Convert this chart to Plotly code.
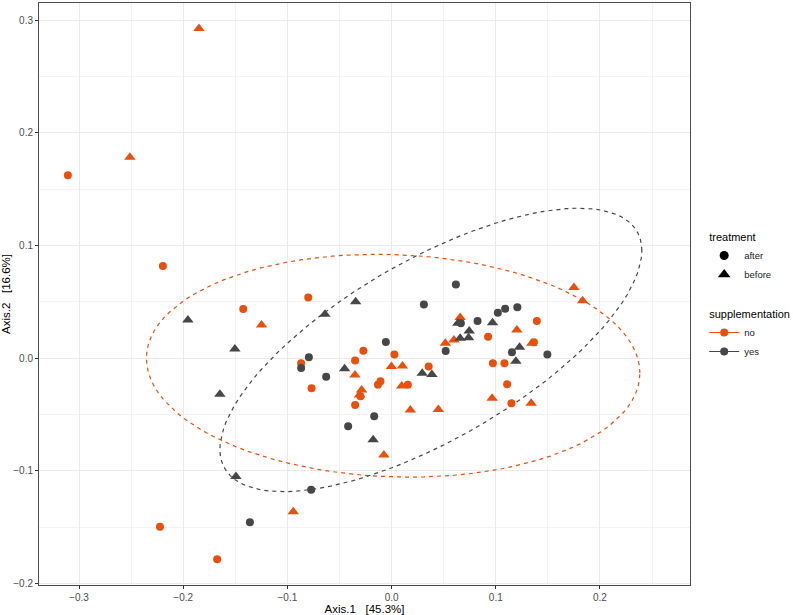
import numpy as np
import plotly.graph_objects as go

# ordination scores (Axis.1, Axis.2)
no_after_x = [-0.3107, -0.2195, -0.1424, -0.2223, -0.1674, -0.0800, -0.0868, -0.0768,
              -0.0271, -0.0350, 0.0027, -0.0107, -0.0131, -0.0350, -0.0299, 0.0356,
              0.0156, 0.0926, 0.0972, 0.1394, 0.1366, 0.1083, 0.1109, 0.1150]
no_after_y = [0.1624, 0.0818, 0.0437, -0.1494, -0.1784, 0.0539, -0.0044, -0.0266,
              0.0067, -0.0019, 0.0034, -0.0203, -0.0235, -0.0414, -0.0338, -0.0073,
              -0.0235, 0.0191, -0.0043, 0.0330, 0.0142, -0.0044, -0.0230, -0.0400]

no_before_x = [-0.1849, -0.2512, -0.1248, -0.0944, -0.0352, -0.0288, -0.0309, -0.0002,
               0.0104, 0.0097, 0.0180, 0.0449, -0.0074, 0.0516, 0.0598, 0.0658,
               0.1202, 0.1346, 0.0965, 0.1340, 0.1750, 0.1833]
no_before_y = [0.2926, 0.1783, 0.0295, -0.1361, -0.0148, -0.0281, -0.0325, -0.0073,
               -0.0068, -0.0245, -0.0458, -0.0455, -0.0859, 0.0134, 0.0162, 0.0363,
               0.0251, 0.0133, -0.0354, -0.0399, 0.0629, 0.0510]

yes_after_x = [-0.0794, -0.0868, -0.0628, -0.0055, -0.0167, -0.0417, -0.0772, -0.1360,
               0.0310, 0.0617, 0.0519, 0.0825, 0.1020, 0.1090, 0.1207, 0.1155,
               0.1495, 0.0665]
yes_after_y = [0.0009, -0.0086, -0.0163, 0.0144, -0.0514, -0.0604, -0.1167, -0.1456,
               0.0478, 0.0655, 0.0065, 0.0330, 0.0404, 0.0439, 0.0452, 0.0053,
               0.0034, 0.0310]

yes_before_x = [-0.1955, -0.1504, -0.1648, -0.1494, -0.0640, -0.0345, -0.0451, -0.0177,
                0.0294, 0.0387, 0.0636, 0.0745, 0.0658, 0.0739, 0.0969, 0.1228, 0.1193]
yes_before_y = [0.0339, 0.0082, -0.0319, -0.1049, 0.0390, 0.0501, -0.0092, -0.0724,
                -0.0133, -0.0145, 0.0310, 0.0242, 0.0177, 0.0182, 0.0315, 0.0097, -0.0027]

# 95% ellipses (supplementation no / yes):
# centre, half extent along each axis, correlation
ell_groups = ["no", "yes"]
ell_cx = [0.0015, 0.0377]
ell_cy = [-0.0066, 0.0074]
ell_rx = [0.2368, 0.2025]
ell_ry = [0.0989, 0.1258]
ell_rho = [-0.066, 0.70]

ORANGE = "#E9500E"
GREY = "#474747"
FONT = "Liberation Sans, Arial, sans-serif"
colors = {"no": ORANGE, "yes": GREY}


def ellipse_path(cx, cy, rx, ry, rho, segments=100):
    t = np.linspace(0, 2 * np.pi, segments + 1)
    ex = cx + rx * np.cos(t)
    ey = cy + ry * (rho * np.cos(t) + np.sqrt(1 - rho ** 2) * np.sin(t))
    return ex, ey


fig = go.Figure()

for i, g in enumerate(ell_groups):
    ex, ey = ellipse_path(ell_cx[i], ell_cy[i], ell_rx[i], ell_ry[i], ell_rho[i])
    fig.add_trace(go.Scatter(x=ex, y=ey, mode="lines", showlegend=False, hoverinfo="skip",
                             line=dict(color=colors[g], width=1.2, dash="4px,4px")))

points = [
    ("no", no_after_x, no_after_y, no_before_x, no_before_y),
    ("yes", yes_after_x, yes_after_y, yes_before_x, yes_before_y),
]
for g, ax_, ay_, bx_, by_ in points:
    fig.add_trace(go.Scatter(x=ax_, y=ay_, mode="markers", showlegend=False,
                             marker=dict(symbol="circle", size=8, color=colors[g])))
    fig.add_trace(go.Scatter(x=bx_, y=by_, mode="markers", showlegend=False,
                             marker=dict(symbol="triangle-up", size=10, color=colors[g])))

# legend entries
for lab, sym in [("after", "circle"), ("before", "triangle-up")]:
    fig.add_trace(go.Scatter(x=[None], y=[None], mode="markers", name=lab,
                             legendgroup="treatment",
                             legendgrouptitle=dict(text="treatment", font=dict(size=11, color="black")),
                             marker=dict(symbol=sym, size=9 if sym == "circle" else 11, color="black")))
for g in ell_groups:
    fig.add_trace(go.Scatter(x=[None], y=[None], mode="lines+markers", name=g,
                             legendgroup="supplementation",
                             legendgrouptitle=dict(text="supplementation", font=dict(size=11, color="black")),
                             line=dict(color=colors[g], width=1.2),
                             marker=dict(symbol="circle", size=8, color=colors[g])))

axis_common = dict(
    showgrid=True, gridcolor="#EBEBEB", gridwidth=1,
    minor=dict(showgrid=True, gridcolor="#F3F3F3", gridwidth=0.6),
    zeroline=False, showline=True, linecolor="#4D4D4D", linewidth=1, mirror=True,
    ticks="outside", ticklen=3, tickcolor="#333333", automargin=False,
    tickfont=dict(size=10, color="#4D4D4D", family=FONT),
)

fig.update_layout(
    width=793, height=615,
    margin=dict(l=39, r=103, t=3, b=30, autoexpand=False),
    plot_bgcolor="white", paper_bgcolor="white",
    font=dict(family=FONT, size=10, color="black"),
    xaxis=dict(range=[-0.3384, 0.2864], dtick=0.1, tick0=0, tickformat=".1f",
               title=dict(text="Axis.1   [45.3%]", font=dict(size=11.5), standoff=2),
               **axis_common),
    yaxis=dict(range=[-0.2012, 0.3153], dtick=0.1, tick0=0, tickformat=".1f",
               title=dict(text="Axis.2   [16.6%]", font=dict(size=11.5), standoff=2),
               **axis_common),
    legend=dict(xref="container", yref="container", x=0.888, xanchor="left",
                y=0.639, yanchor="top",
                font=dict(size=9.5, color="#222222"), tracegroupgap=20,
                itemwidth=30, bgcolor="rgba(0,0,0,0)"),
)
fig.update_xaxes(minor_dtick=0.05)
fig.update_yaxes(minor_dtick=0.05)

fig.write_html("out.html", config={"displayModeBar": False},
               post_script="document.body.style.margin='0';")
